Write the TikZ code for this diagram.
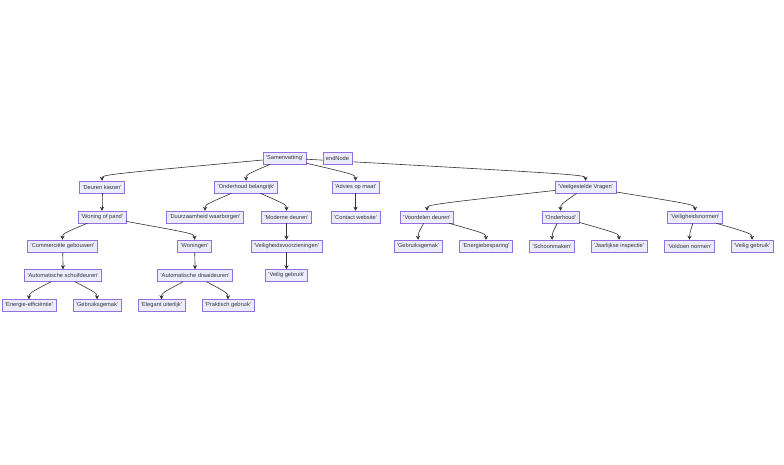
\documentclass[tikz,border=0pt]{standalone}
\usepackage{fontspec}
\setmainfont{Liberation Sans}
\usetikzlibrary{arrows.meta}
\definecolor{nodefill}{HTML}{ECECFF}
\definecolor{nodedraw}{HTML}{9370DB}
\definecolor{ink}{HTML}{333333}
\newcommand\qt[1]{\textquotesingle#1\textquotesingle}
\newcommand\conn[2]{\draw[edgeline] (#1) .. controls ([yshift=6pt]#2.north) .. (#2.north);}
\begin{document}
\begin{tikzpicture}[x=1pt,y=-1pt,
  box/.style={draw=nodedraw, fill=nodefill, line width=0.5pt, text=ink,
    font=\fontsize{5.7}{6}\selectfont, inner xsep=3pt, inner ysep=0pt, minimum height=12pt},
  edgeline/.style={draw=ink, line width=0.6pt, -{Stealth[length=4pt,width=4pt]}}]
\useasboundingbox[fill=white] (0,0) rectangle (784,464);
% row 0
\node[box] (sam) at (284.5,158) {\qt{Samenvatting}};
% row 1
\node[box] (deu) at (102,187) {\qt{Deuren kiezen}};
\node[box] (ond) at (246,187) {\qt{Onderhoud belangrijk}};
\node[box] (adv) at (355.5,187) {\qt{Advies op maat}};
\node[box] (vee) at (585.5,187) {\qt{Veelgestelde Vragen}};
% row 2
\node[box] (won) at (102,217) {\qt{Woning of pand}};
\node[box] (duu) at (205,217) {\qt{Duurzaamheid waarborgen}};
\node[box] (mod) at (286.5,217) {\qt{Moderne deuren}};
\node[box] (con) at (355.5,217) {\qt{Contact website}};
\node[box] (voo) at (427,217) {\qt{Voordelen deuren}};
\node[box] (onh) at (560.5,217) {\qt{Onderhoud}};
\node[box] (vei) at (695,217) {\qt{Veiligheidsnormen}};
% row 3
\node[box] (com) at (62.5,246) {\qt{Commerciële gebouwen}};
\node[box] (wng) at (194.5,246) {\qt{Woningen}};
\node[box] (vvz) at (286.5,246) {\qt{Veiligheidsvoorzieningen}};
\node[box] (geb2) at (418,246) {\qt{Gebruiksgemak}};
\node[box] (ene) at (486,246) {\qt{Energiebesparing}};
\node[box] (sch) at (552,246) {\qt{Schoonmaken}};
\node[box] (jaa) at (619,246) {\qt{Jaarlijkse inspectie}};
\node[box] (vol) at (689.5,246) {\qt{Voldoen normen}};
\node[box] (vg2) at (752,246) {\qt{Veilig gebruik}};
% row 4
\node[box] (asd) at (63,275.5) {\qt{Automatische schuifdeuren}};
\node[box] (add) at (195,275.5) {\qt{Automatische draaideuren}};
\node[box] (vg1) at (286.5,275.5) {\qt{Veilig gebruik}};
% row 5
\node[box] (eef) at (29,305.5) {\qt{Energie-efficiëntie}};
\node[box] (geb1) at (97,305.5) {\qt{Gebruiksgemak}};
\node[box] (ele) at (161.5,305.5) {\qt{Elegant uiterlijk}};
\node[box] (pra) at (228,305.5) {\qt{Praktisch gebruik}};
% connectors
\conn{sam}{deu}
\conn{sam}{ond}
\conn{sam}{adv}
\conn{sam}{vee}
\conn{deu}{won}
\conn{won}{com}
\conn{won}{wng}
\conn{com}{asd}
\conn{wng}{add}
\conn{asd}{eef}
\conn{asd}{geb1}
\conn{add}{ele}
\conn{add}{pra}
\conn{ond}{duu}
\conn{ond}{mod}
\conn{mod}{vvz}
\conn{vvz}{vg1}
\conn{adv}{con}
\conn{vee}{voo}
\conn{vee}{onh}
\conn{vee}{vei}
\conn{voo}{geb2}
\conn{voo}{ene}
\conn{onh}{sch}
\conn{onh}{jaa}
\conn{vei}{vol}
\conn{vei}{vg2}
% node drawn above the passing connector
\node[box] (endn) at (337.5,158) {endNode};
\end{tikzpicture}
\end{document}
